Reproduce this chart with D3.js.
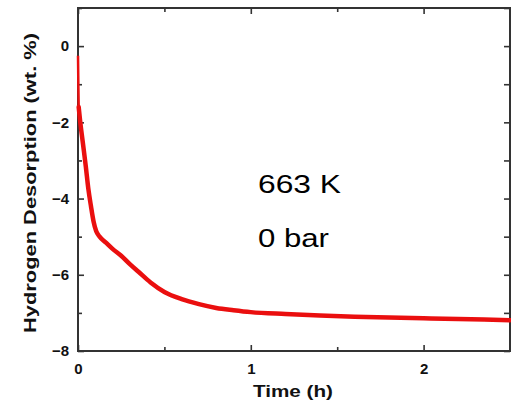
<!DOCTYPE html>
<html>
<head>
<meta charset="utf-8">
<script src="https://cdn.jsdelivr.net/npm/d3@7"></script>
<style>
  html, body { margin: 0; padding: 0; background: #fff; }
  svg { display: block; }
</style>
</head>
<body>
<svg id="chart" width="511" height="403"></svg>
<script>
// Desorption run at 663 K, 0 bar
const timeH = [0, 0.002, 0.004, 0.012, 0.027, 0.045, 0.06, 0.075, 0.09, 0.105, 0.125, 0.16, 0.2, 0.25, 0.3, 0.35, 0.42, 0.5, 0.6, 0.7, 0.8, 0.9, 1.0, 1.2, 1.4, 1.6, 1.8, 2.0, 2.2, 2.5];
const desorption = [-0.25, -1.0, -1.6, -1.95, -2.5, -3.15, -3.75, -4.2, -4.6, -4.85, -5.0, -5.15, -5.32, -5.5, -5.72, -5.92, -6.2, -6.45, -6.64, -6.77, -6.87, -6.93, -6.98, -7.03, -7.07, -7.1, -7.12, -7.14, -7.16, -7.19];
const xMajorTicks = [0, 1, 2];
const xMinorTicks = [0.5, 1.5];
const yMajorTicks = [0, -2, -4, -6, -8];
const yMinorTicks = [1, -1, -3, -5, -7];
const annotations = ["663 K", "0 bar"];

const svg = d3.select("#chart");
const margin = { left: 78, right: 1, top: 8, bottom: 52 };
const W = 511, H = 403;

const x = d3.scaleLinear().domain([0, 2.5]).range([margin.left, W - margin.right]);
const y = d3.scaleLinear().domain([-8, 1]).range([H - margin.bottom, margin.top]);

const axisColor = "#333";
const font = "'Liberation Sans', Arial, sans-serif";

function styleAxis(g, showLabels) {
  g.select(".domain").remove();
  g.selectAll(".tick line").attr("stroke", axisColor).attr("stroke-width", 1.6);
  g.selectAll(".tick text")
    .attr("font-family", font).attr("font-weight", "bold").attr("font-size", 15)
    .attr("fill", "#111");
  if (!showLabels) g.selectAll(".tick text").remove();
}

// bottom axis (ticks point inward)
svg.append("g").attr("transform", `translate(0,${y(-8)})`)
  .call(d3.axisBottom(x).tickValues(xMajorTicks).tickSize(-6).tickPadding(12).tickFormat(d3.format("d")))
  .call(g => styleAxis(g, true));
svg.append("g").attr("transform", `translate(0,${y(-8)})`)
  .call(d3.axisBottom(x).tickValues(xMinorTicks).tickSize(-4))
  .call(g => styleAxis(g, false));
// top axis
svg.append("g").attr("transform", `translate(0,${y(1)})`)
  .call(d3.axisTop(x).tickValues(xMajorTicks).tickSize(-6))
  .call(g => styleAxis(g, false));
svg.append("g").attr("transform", `translate(0,${y(1)})`)
  .call(d3.axisTop(x).tickValues(xMinorTicks).tickSize(-4))
  .call(g => styleAxis(g, false));
// left axis
svg.append("g").attr("transform", `translate(${x(0)},0)`)
  .call(d3.axisLeft(y).tickValues(yMajorTicks).tickSize(-6).tickPadding(9).tickFormat(d3.format("d")))
  .call(g => styleAxis(g, true));
svg.append("g").attr("transform", `translate(${x(0)},0)`)
  .call(d3.axisLeft(y).tickValues(yMinorTicks).tickSize(-4))
  .call(g => styleAxis(g, false));
// right axis
svg.append("g").attr("transform", `translate(${x(2.5)},0)`)
  .call(d3.axisRight(y).tickValues(yMajorTicks.concat(yMinorTicks)).tickSize(-6))
  .call(g => styleAxis(g, false));

// frame
svg.append("rect")
  .attr("x", x(0)).attr("y", y(1))
  .attr("width", x(2.5) - x(0)).attr("height", y(-8) - y(1))
  .attr("fill", "none").attr("stroke", axisColor).attr("stroke-width", 2);

// curve
const pts = timeH.map((t, i) => [t, desorption[i]]);
const line = d3.line().x(d => x(d[0])).y(d => y(d[1])).curve(d3.curveMonotoneX);
svg.append("path").datum(pts.slice(0, 3))
  .attr("d", line).attr("fill", "none")
  .attr("stroke", "#ea0f0f").attr("stroke-width", 2.5);
svg.append("path").datum(pts.slice(2))
  .attr("d", line).attr("fill", "none")
  .attr("stroke", "#ea0f0f").attr("stroke-width", 4.5)
  .attr("stroke-linejoin", "round").attr("stroke-linecap", "round");

// annotations
const noteWidths = [83, 71];
svg.selectAll("text.note").data(annotations).enter().append("text")
  .attr("class", "note")
  .attr("x", 258).attr("y", (d, i) => 193 + i * 54)
  .attr("font-family", font).attr("font-size", 25).attr("fill", "#000")
  .attr("textLength", (d, i) => noteWidths[i]).attr("lengthAdjust", "spacingAndGlyphs")
  .text(d => d);

// axis titles
svg.append("text")
  .attr("x", 293).attr("y", 397)
  .attr("text-anchor", "middle")
  .attr("font-family", font).attr("font-weight", "bold").attr("font-size", 17)
  .attr("textLength", 80).attr("lengthAdjust", "spacingAndGlyphs")
  .attr("fill", "#111")
  .text("Time (h)");
svg.append("text")
  .attr("transform", `translate(36,183) rotate(-90)`)
  .attr("text-anchor", "middle")
  .attr("font-family", font).attr("font-weight", "bold").attr("font-size", 17)
  .attr("textLength", 300).attr("lengthAdjust", "spacingAndGlyphs")
  .attr("fill", "#111")
  .text("Hydrogen Desorption (wt. %)");
</script>
</body>
</html>
